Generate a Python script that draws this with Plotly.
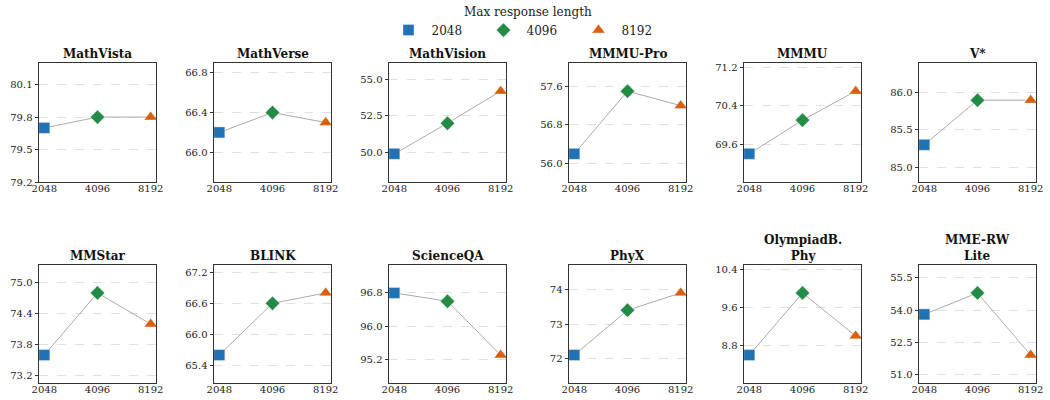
import plotly.graph_objects as go

# ---------------- data ----------------
lengths = ["2048", "4096", "8192"]
benchmarks = ["MathVista", "MathVerse", "MathVision", "MMMU-Pro", "MMMU", "V*",
              "MMStar", "BLINK", "ScienceQA", "PhyX", "OlympiadB.<br>Phy", "MME-RW<br>Lite"]

mathvista = [79.7, 79.8, 79.8]
mathverse = [66.2, 66.4, 66.3]
mathvision = [49.9, 52.0, 54.2]
mmmu_pro = [56.2, 57.5, 57.2]
mmmu = [69.4, 70.1, 70.7]
vstar = [85.3, 85.9, 85.9]
mmstar = [73.6, 74.8, 74.2]
blink = [65.6, 66.6, 66.8]
scienceqa = [96.8, 96.6, 95.3]
phyx = [72.1, 73.4, 73.9]
olympiad_phy = [8.6, 9.9, 9.0]
mme_rw_lite = [53.8, 54.8, 51.9]

series = [mathvista, mathverse, mathvision, mmmu_pro, mmmu, vstar,
          mmstar, blink, scienceqa, phyx, olympiad_phy, mme_rw_lite]

yticks_mathvista = [79.2, 79.5, 79.8, 80.1]
yticks_mathverse = [66.0, 66.4, 66.8]
yticks_mathvision = [50.0, 52.5, 55.0]
yticks_mmmu_pro = [56.0, 56.8, 57.6]
yticks_mmmu = [69.6, 70.4, 71.2]
yticks_vstar = [85.0, 85.5, 86.0]
yticks_mmstar = [73.2, 73.8, 74.4, 75.0]
yticks_blink = [65.4, 66.0, 66.6, 67.2]
yticks_scienceqa = [95.2, 96.0, 96.8]
yticks_phyx = [72, 73, 74]
yticks_olympiad = [8.8, 9.6, 10.4]
yticks_mme = [51.0, 52.5, 54.0, 55.5]

yticks = [yticks_mathvista, yticks_mathverse, yticks_mathvision, yticks_mmmu_pro,
          yticks_mmmu, yticks_vstar, yticks_mmstar, yticks_blink, yticks_scienceqa,
          yticks_phyx, yticks_olympiad, yticks_mme]
ytickfmt = [".1f"] * 9 + ["d", ".1f", ".1f"]

# ---------------- style ----------------
W, H = 1050, 400
colors = ["#2171b5", "#238b45", "#d95f0e"]
symbols = ["square", "diamond", "triangle-up"]
msizes = [11, 11, 11.5]
FONT = "DejaVu Serif"

col_left = [39, 214, 389, 569, 744, 919]
box_w = 117
row_top = [63, 265]
row_bot = [182, 383]

fig = go.Figure()

for i, (name, vals) in enumerate(zip(benchmarks, series)):
    r, c = divmod(i, 6)
    xa = "x" if i == 0 else f"x{i+1}"
    ya = "y" if i == 0 else f"y{i+1}"
    fig.add_trace(go.Scatter(x=lengths, y=vals, mode="lines",
                             line=dict(color="#aaaaaa", width=1),
                             showlegend=False, hoverinfo="skip",
                             xaxis=xa, yaxis=ya, cliponaxis=False))
    for k in range(3):
        fig.add_trace(go.Scatter(
            x=[lengths[k]], y=[vals[k]], mode="markers", name=lengths[k],
            legendgroup=lengths[k], showlegend=(i == 0),
            marker=dict(symbol=symbols[k], color=colors[k], size=msizes[k],
                        line=dict(color="rgba(255,255,255,0.6)", width=0.6)),
            xaxis=xa, yaxis=ya, cliponaxis=False))

    x0 = col_left[c] / W
    x1 = (col_left[c] + box_w) / W
    y0 = 1 - row_bot[r] / H
    y1 = 1 - row_top[r] / H
    lo, hi = min(vals), max(vals)
    pad = max(0.5, 0.45 * (hi - lo))
    xkey = "xaxis" if i == 0 else f"xaxis{i+1}"
    ykey = "yaxis" if i == 0 else f"yaxis{i+1}"
    fig.update_layout(**{
        xkey: dict(domain=[x0, x1], anchor=ya, type="category", automargin=False,
                   range=[-0.1, 2.1], showgrid=False, zeroline=False,
                   showline=True, mirror=True, linecolor="#333333", linewidth=1,
                   ticks="", ticklabelstandoff=-3,
                   tickfont=dict(family=FONT, size=10, color="#222222")),
        ykey: dict(domain=[y0, y1], anchor=xa, range=[lo - pad, hi + pad],
                   automargin=False,
                   tickvals=yticks[i], tickformat=ytickfmt[i],
                   showgrid=True, gridcolor="#e0e0e0", griddash="dash", gridwidth=0.8,
                   zeroline=False, showline=True, mirror=True,
                   linecolor="#333333", linewidth=1,
                   ticks="outside", ticklen=3.5, tickcolor="#333333",
                   tickfont=dict(family=FONT, size=10, color="#222222")),
    })
    fig.add_annotation(text=f"<b>{name}</b>", xref="paper", yref="paper",
                       x=(x0 + x1) / 2, y=y1, xanchor="center", yanchor="bottom",
                       showarrow=False, font=dict(family=FONT, size=12, color="#111111"))

fig.update_layout(
    width=W, height=H,
    margin=dict(l=0, r=0, t=0, b=0, autoexpand=False),
    paper_bgcolor="white", plot_bgcolor="white",
    showlegend=True,
    legend=dict(orientation="h", x=0.5 + 3 / W, xanchor="center", y=1.0, yanchor="top",
                title=dict(text="Max response length", side="top center",
                           font=dict(family=FONT, size=12, color="#222222")),
                font=dict(family=FONT, size=12, color="#222222"),
                itemwidth=36, entrywidth=44, entrywidthmode="pixels",
                bgcolor="rgba(0,0,0,0)"),
)

fig.write_html("out.html", config={"displayModeBar": False},
               post_script="document.body.style.margin='0';")
